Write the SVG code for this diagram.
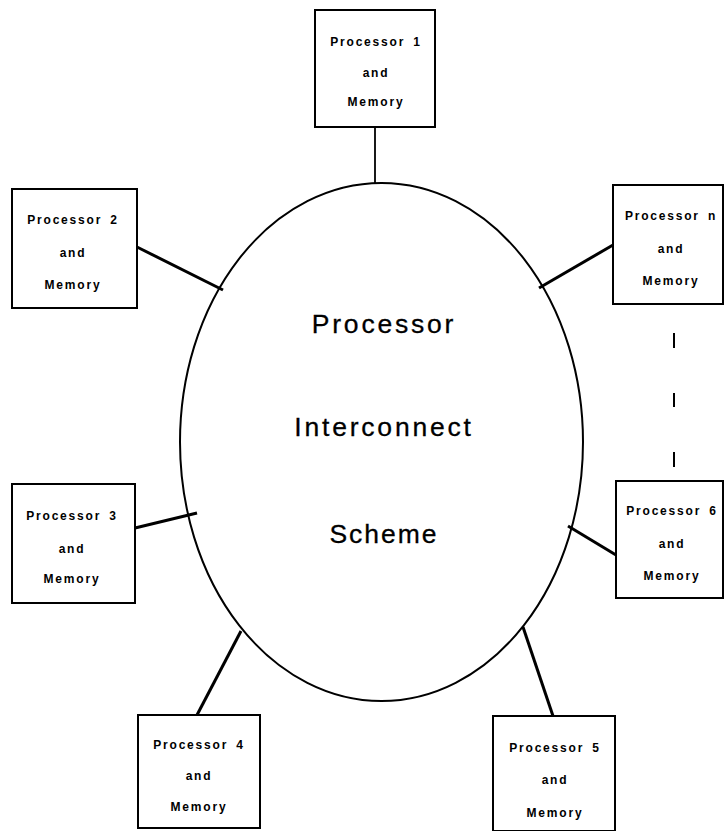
<svg xmlns="http://www.w3.org/2000/svg" width="724" height="831" viewBox="0 0 724 831">
<style>
.box{fill:#fff;stroke:#000;stroke-width:2}
.lbl{font-family:"Liberation Sans",Arial,sans-serif;font-weight:bold;font-size:12px;letter-spacing:1.8px;word-spacing:3px;text-anchor:middle;fill:#000}
.big{font-family:"Liberation Sans",Arial,sans-serif;font-size:26.5px;letter-spacing:2.8px;text-anchor:middle;fill:#000;stroke:#000;stroke-width:0.3}
.con{stroke:#000;stroke-width:3;fill:none;stroke-linecap:butt}
</style>
<rect width="724" height="831" fill="#fff"/>
<g id="connectors">
<line class="con" x1="375" y1="127" x2="375" y2="184" style="stroke-width:1.8"/>
<line class="con" x1="137" y1="247" x2="223" y2="290"/>
<line class="con" x1="613" y1="245" x2="539" y2="288"/>
<line class="con" x1="135" y1="528" x2="197" y2="513"/>
<line class="con" x1="616" y1="555" x2="568" y2="526"/>
<line class="con" x1="197" y1="715" x2="241" y2="631"/>
<line class="con" x1="553" y1="716" x2="523" y2="627"/>
<g stroke="#000" stroke-width="2">
<line x1="674" y1="333" x2="674" y2="348"/>
<line x1="674" y1="393" x2="674" y2="407"/>
<line x1="674" y1="452" x2="674" y2="467"/>
</g>
</g>
<g id="interconnect">
<ellipse cx="381.5" cy="442" rx="201.5" ry="259" fill="none" stroke="#000" stroke-width="2"/>
<text class="big" x="384" y="333">Processor</text>
<text class="big" x="384" y="436">Interconnect</text>
<text class="big" x="384" y="543" style="letter-spacing:2px">Scheme</text>
</g>
<g id="p1">
<rect class="box" x="315" y="10" width="120" height="117"/>
<text class="lbl" x="376" y="46">Processor 1</text>
<text class="lbl" x="376" y="77">and</text>
<text class="lbl" x="376" y="106">Memory</text>
</g>
<g id="p2">
<rect class="box" x="12" y="189" width="125" height="119"/>
<text class="lbl" x="73" y="224">Processor 2</text>
<text class="lbl" x="73" y="257">and</text>
<text class="lbl" x="73" y="289">Memory</text>
</g>
<g id="pn">
<rect class="box" x="613" y="185" width="110" height="119"/>
<text class="lbl" x="671" y="220">Processor n</text>
<text class="lbl" x="671" y="253">and</text>
<text class="lbl" x="671" y="285">Memory</text>
</g>
<g id="p3">
<rect class="box" x="12" y="484" width="123" height="119"/>
<text class="lbl" x="72" y="520">Processor 3</text>
<text class="lbl" x="72" y="553">and</text>
<text class="lbl" x="72" y="583">Memory</text>
</g>
<g id="p6">
<rect class="box" x="616" y="481" width="107" height="117"/>
<text class="lbl" x="672" y="515">Processor 6</text>
<text class="lbl" x="672" y="548">and</text>
<text class="lbl" x="672" y="580">Memory</text>
</g>
<g id="p4">
<rect class="box" x="138" y="715" width="122" height="113"/>
<text class="lbl" x="199" y="749">Processor 4</text>
<text class="lbl" x="199" y="780">and</text>
<text class="lbl" x="199" y="811">Memory</text>
</g>
<g id="p5">
<rect class="box" x="493" y="716" width="122" height="115"/>
<text class="lbl" x="555" y="752">Processor 5</text>
<text class="lbl" x="555" y="784">and</text>
<text class="lbl" x="555" y="817">Memory</text>
</g>
</svg>
